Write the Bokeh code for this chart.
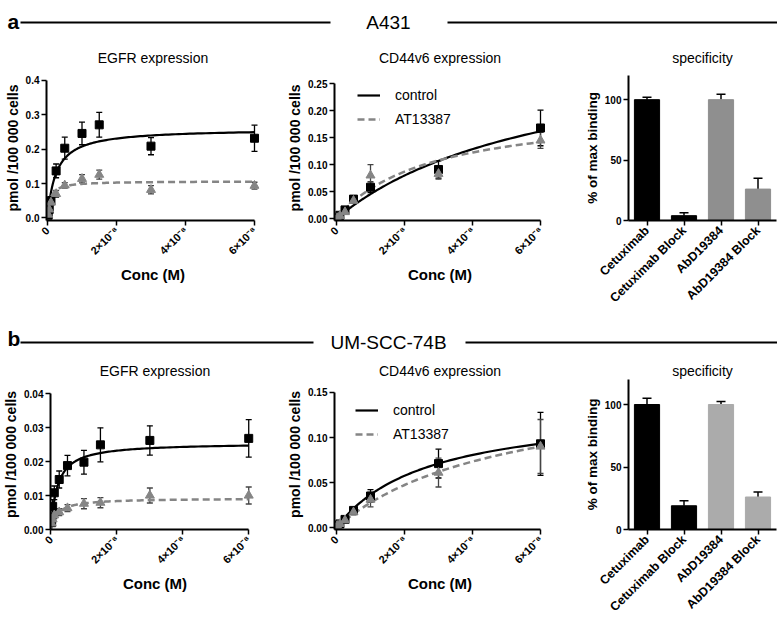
import math
import numpy as np
from bokeh.plotting import figure
from bokeh.layouts import column, row
from bokeh.models import (ColumnDataSource, Range1d, FactorRange, FixedTicker,
                          PrintfTickFormatter, Whisker, TeeHead, Legend, LegendItem)
from bokeh.embed import file_html
from bokeh.resources import INLINE
from bokeh.core.properties import value

FONT = "Liberation Sans"

# concentrations, in units of 1e-8 M
conc_egfr = [0.02, 0.05, 0.1, 0.25, 0.5, 1.0, 1.5, 3.0, 6.0]
conc_cd44 = [0.02, 0.1, 0.25, 0.5, 1.0, 3.0, 6.0]
x_ticks = [0, 2, 4, 6]
x_tick_labels = ["0", "2×10⁻⁸", "4×10⁻⁸", "6×10⁻⁸"]

# A431
a431_egfr_ctrl = [0.008, 0.025, 0.050, 0.137, 0.203, 0.246, 0.271, 0.209, 0.232]
a431_egfr_ctrl_err = [0.004, 0.008, 0.012, 0.020, 0.032, 0.033, 0.036, 0.025, 0.038]
a431_egfr_at = [0.010, 0.025, 0.045, 0.070, 0.095, 0.114, 0.126, 0.082, 0.094]
a431_egfr_at_err = [0.004, 0.006, 0.008, 0.010, 0.008, 0.012, 0.013, 0.012, 0.010]
a431_cd44_ctrl = [0.001, 0.006, 0.016, 0.036, 0.058, 0.091, 0.168]
a431_cd44_ctrl_err = [0.001, 0.002, 0.003, 0.004, 0.010, 0.016, 0.033]
a431_cd44_at = [0.001, 0.005, 0.012, 0.033, 0.080, 0.083, 0.145]
a431_cd44_at_err = [0.001, 0.002, 0.003, 0.004, 0.020, 0.010, 0.015]

# UM-SCC-74B
um_egfr_ctrl = [0.0020, 0.0068, 0.0108, 0.0147, 0.0188, 0.0198, 0.0249, 0.0262, 0.0268]
um_egfr_ctrl_err = [0.0010, 0.0020, 0.0020, 0.0025, 0.0030, 0.0035, 0.0050, 0.0043, 0.0055]
um_egfr_at = [0.0018, 0.0030, 0.0042, 0.0051, 0.0063, 0.0076, 0.0079, 0.0100, 0.0100]
um_egfr_at_err = [0.0008, 0.0010, 0.0010, 0.0010, 0.0010, 0.0015, 0.0015, 0.0022, 0.0025]
um_cd44_ctrl = [0.002, 0.004, 0.009, 0.019, 0.035, 0.071, 0.093]
um_cd44_ctrl_err = [0.001, 0.001, 0.002, 0.003, 0.007, 0.016, 0.035]
um_cd44_at = [0.002, 0.004, 0.008, 0.017, 0.031, 0.061, 0.090]
um_cd44_at_err = [0.001, 0.001, 0.002, 0.003, 0.008, 0.016, 0.030]

# one-site binding fits: (Bmax, Kd in 1e-8 M)
a431_egfr_fit_ctrl = (0.26, 0.25)
a431_egfr_fit_at = (0.107, 0.08)
a431_cd44_fit_ctrl = (0.333, 6.35)
a431_cd44_fit_at = (0.207, 2.76)
um_egfr_fit_ctrl = (0.0255, 0.2)
um_egfr_fit_at = (0.0092, 0.2)
um_cd44_fit_ctrl = (0.135, 2.7)
um_cd44_fit_at = (0.164, 4.95)

# specificity
spec_labels = ["Cetuximab", "Cetuximab Block", "AbD19384", "AbD19384 Block"]
a431_spec = [100, 4, 100, 26]
a431_spec_err = [2, 2.5, 4.5, 9]
um_spec = [100, 19, 100, 26]
um_spec_err = [5, 4, 2.5, 4]
a431_spec_colors = ["black", "black", "#8f8f8f", "#8f8f8f"]
um_spec_colors = ["black", "black", "#ababab", "#ababab"]

CTRL_COLOR = "black"
AT_COLOR = "#858585"


def style_axes(p, title_standoff):
    p.axis.axis_line_width = 2
    p.axis.axis_line_color = "black"
    p.axis.major_tick_line_width = 1.5
    p.axis.major_tick_out = 5
    p.axis.major_tick_in = 0
    p.axis.minor_tick_line_color = None
    p.axis.major_label_text_font = FONT
    p.axis.major_label_text_font_style = "bold"
    p.axis.major_label_text_font_size = "10px"
    p.axis.major_label_text_color = "black"
    p.axis.axis_label_text_font = FONT
    p.axis.axis_label_text_font_style = "bold"
    p.axis.axis_label_text_color = "black"
    p.grid.visible = False
    p.outline_line_color = None
    p.title.align = "center"
    p.title.text_font = FONT
    p.title.text_font_style = "normal"
    p.title.text_font_size = "14px"
    p.title.text_color = "black"
    p.title.standoff = title_standoff


def fit_curve(params):
    bmax, kd = params
    xs = np.concatenate([[0.0], np.geomspace(0.002, 6.0, 300)])
    return xs, bmax * xs / (kd + xs)


def add_errors(p, conc, vals, errs, bar_color):
    src = ColumnDataSource(dict(x=conc, y=vals,
                                lo=[v - e for v, e in zip(vals, errs)],
                                hi=[v + e for v, e in zip(vals, errs)]))
    p.add_layout(Whisker(source=src, base="x", upper="hi", lower="lo",
                         line_color=bar_color, line_width=1.3,
                         upper_head=TeeHead(size=6, line_color=bar_color, line_width=1.3),
                         lower_head=TeeHead(size=6, line_color=bar_color, line_width=1.3)))
    return src


def binding_panel(title, conc, ctrl, ctrl_err, at, at_err, fit_ctrl, fit_at,
                  y_range, y_ticks, y_fmt, x_range, w, h, bl, br, bt, bb,
                  title_standoff, legend_loc=None):
    p = figure(width=w, height=h, title=title,
               x_range=Range1d(*x_range), y_range=Range1d(*y_range),
               toolbar_location=None, output_backend="svg",
               min_border_left=bl, min_border_right=br,
               min_border_top=bt, min_border_bottom=bb)
    style_axes(p, title_standoff)
    p.xaxis.ticker = FixedTicker(ticks=x_ticks)
    p.xaxis.major_label_overrides = dict(zip(x_ticks, x_tick_labels))
    p.xaxis.major_label_orientation = math.pi / 4
    p.xaxis.major_label_text_font_size = "11px"
    p.xaxis.major_label_standoff = 3
    p.xaxis.axis_label = "Conc (M)"
    p.xaxis.axis_label_text_font_size = "15px"
    p.xaxis.axis_label_standoff = 2
    p.xaxis.bounds = (x_range[0], x_ticks[-1])
    p.yaxis.ticker = FixedTicker(ticks=y_ticks)
    p.yaxis.formatter = PrintfTickFormatter(format=y_fmt)
    p.yaxis.major_label_standoff = 2
    p.yaxis.axis_label = "pmol /100 000 cells"
    p.yaxis.axis_label_text_font_size = "14px"
    p.yaxis.axis_label_standoff = 2
    p.yaxis.bounds = (y_range[0], y_ticks[-1])

    src_c = add_errors(p, conc, ctrl, ctrl_err, "black")
    src_a = add_errors(p, conc, at, at_err, "#444444")

    xc, yc = fit_curve(fit_ctrl)
    xa, ya = fit_curve(fit_at)
    r_c = p.line(xc, yc, line_color=CTRL_COLOR, line_width=2.2)
    r_a = p.line(xa, ya, line_color=AT_COLOR, line_width=2.5, line_dash="7 4")

    p.scatter("x", "y", source=src_c, marker="square", size=8,
              fill_color=CTRL_COLOR, line_color=CTRL_COLOR)
    p.scatter("x", "y", source=src_a, marker="triangle", size=9,
              fill_color=AT_COLOR, line_color=AT_COLOR)

    if legend_loc is not None:
        leg = Legend(items=[LegendItem(label="control", renderers=[r_c]),
                            LegendItem(label="AT13387", renderers=[r_a])],
                     location=legend_loc)
        leg.border_line_color = None
        leg.background_fill_alpha = 0
        leg.label_text_font = FONT
        leg.label_text_font_size = "14px"
        leg.label_text_color = "black"
        leg.glyph_width = 23
        leg.glyph_height = 20
        leg.label_height = 20
        leg.label_standoff = 15
        leg.spacing = 4
        leg.padding = 0
        leg.margin = 0
        p.add_layout(leg)
    return p


def spec_panel(vals, errs, colors, w, h, bl, br, bt, bb, title_standoff):
    p = figure(width=w, height=h, title="specificity",
               x_range=FactorRange(*spec_labels), y_range=Range1d(0, 120),
               toolbar_location=None, output_backend="svg",
               min_border_left=bl, min_border_right=br,
               min_border_top=bt, min_border_bottom=bb)
    style_axes(p, title_standoff)
    src = ColumnDataSource(dict(x=spec_labels, top=vals, color=colors,
                                hi=[v + e for v, e in zip(vals, errs)]))
    p.add_layout(Whisker(source=src, base="x", upper="hi", lower="top",
                         line_color="black", line_width=1.5,
                         upper_head=TeeHead(size=9, line_color="black", line_width=1.5),
                         lower_head=None))
    p.vbar(x="x", top="top", width=0.68, source=src, fill_color="color",
           line_color="color")
    p.yaxis.ticker = FixedTicker(ticks=[0, 50, 100])
    p.yaxis.major_label_standoff = 2
    p.yaxis.axis_label = "% of max binding"
    p.yaxis.axis_label_text_font_size = "13.5px"
    p.yaxis.axis_label_standoff = 2
    p.xaxis.major_label_orientation = math.pi / 4
    p.xaxis.major_label_text_font_size = "12.5px"
    p.xaxis.major_label_standoff = 3
    return p


W = 777


def header(letter, name, letter_y, left_end, right_start):
    p = figure(width=W, height=32, x_range=Range1d(0, W), y_range=Range1d(32, 0),
               toolbar_location=None, output_backend="svg",
               x_axis_location=None, y_axis_location=None, min_border=0)
    p.grid.visible = False
    p.outline_line_color = None
    p.text(x=[7], y=[letter_y], text=[letter], text_font=value(FONT),
           text_font_style="bold", text_font_size="21px",
           text_align="left", text_baseline="alphabetic", text_color="black")
    p.segment(x0=[20, right_start], y0=[22, 22], x1=[left_end, W], y1=[22, 22],
              line_color="black", line_width=2)
    p.text(x=[388], y=[22], text=[name], text_font=value(FONT),
           text_font_size="19px", text_align="center", text_baseline="middle",
           text_color="black")
    return p


hdr_a = header("a", "A431", 21, 330, 447)
a1 = binding_panel("EGFR expression", conc_egfr, a431_egfr_ctrl, a431_egfr_ctrl_err,
                   a431_egfr_at, a431_egfr_at_err, a431_egfr_fit_ctrl, a431_egfr_fit_at,
                   (-0.0073, 0.4145), [0, 0.1, 0.2, 0.3, 0.4], "%.1f", (-0.029, 6.145),
                   284, 288, 46, 25, 43, 100, 20)
a2 = binding_panel("CD44v6 expression", conc_cd44, a431_cd44_ctrl, a431_cd44_ctrl_err,
                   a431_cd44_at, a431_cd44_at_err, a431_cd44_fit_ctrl, a431_cd44_fit_at,
                   (-0.0037, 0.2654), [0, 0.05, 0.10, 0.15, 0.20, 0.25], "%.2f",
                   (-0.059, 6.147), 297, 288, 50, 36, 43, 100, 20, legend_loc=(23, 91))
a3 = spec_panel(a431_spec, a431_spec_err, a431_spec_colors, 196, 288, 42, 1, 43, 100, 20)

hdr_b = header("b", "UM-SCC-74B", 18, 313, 465)
b1 = binding_panel("EGFR expression", conc_egfr, um_egfr_ctrl, um_egfr_ctrl_err,
                   um_egfr_at, um_egfr_at_err, um_egfr_fit_ctrl, um_egfr_fit_at,
                   (0.0, 0.04412), [0, 0.01, 0.02, 0.03, 0.04], "%.2f", (-0.015, 6.327),
                   284, 270, 46, 25, 27, 93, 2)
b2 = binding_panel("CD44v6 expression", conc_cd44, um_cd44_ctrl, um_cd44_ctrl_err,
                   um_cd44_at, um_cd44_at_err, um_cd44_fit_ctrl, um_cd44_fit_at,
                   (-0.0022, 0.16444), [0, 0.05, 0.10, 0.15], "%.2f", (-0.059, 6.147),
                   297, 270, 50, 36, 27, 93, 2, legend_loc=(21, 85))
b3 = spec_panel(um_spec, um_spec_err, um_spec_colors, 196, 270, 42, 1, 27, 93, 2)

layout = column(hdr_a, row(a1, a2, a3), hdr_b, row(b1, b2, b3))

open("out.html", "w").write(file_html(layout, INLINE))
